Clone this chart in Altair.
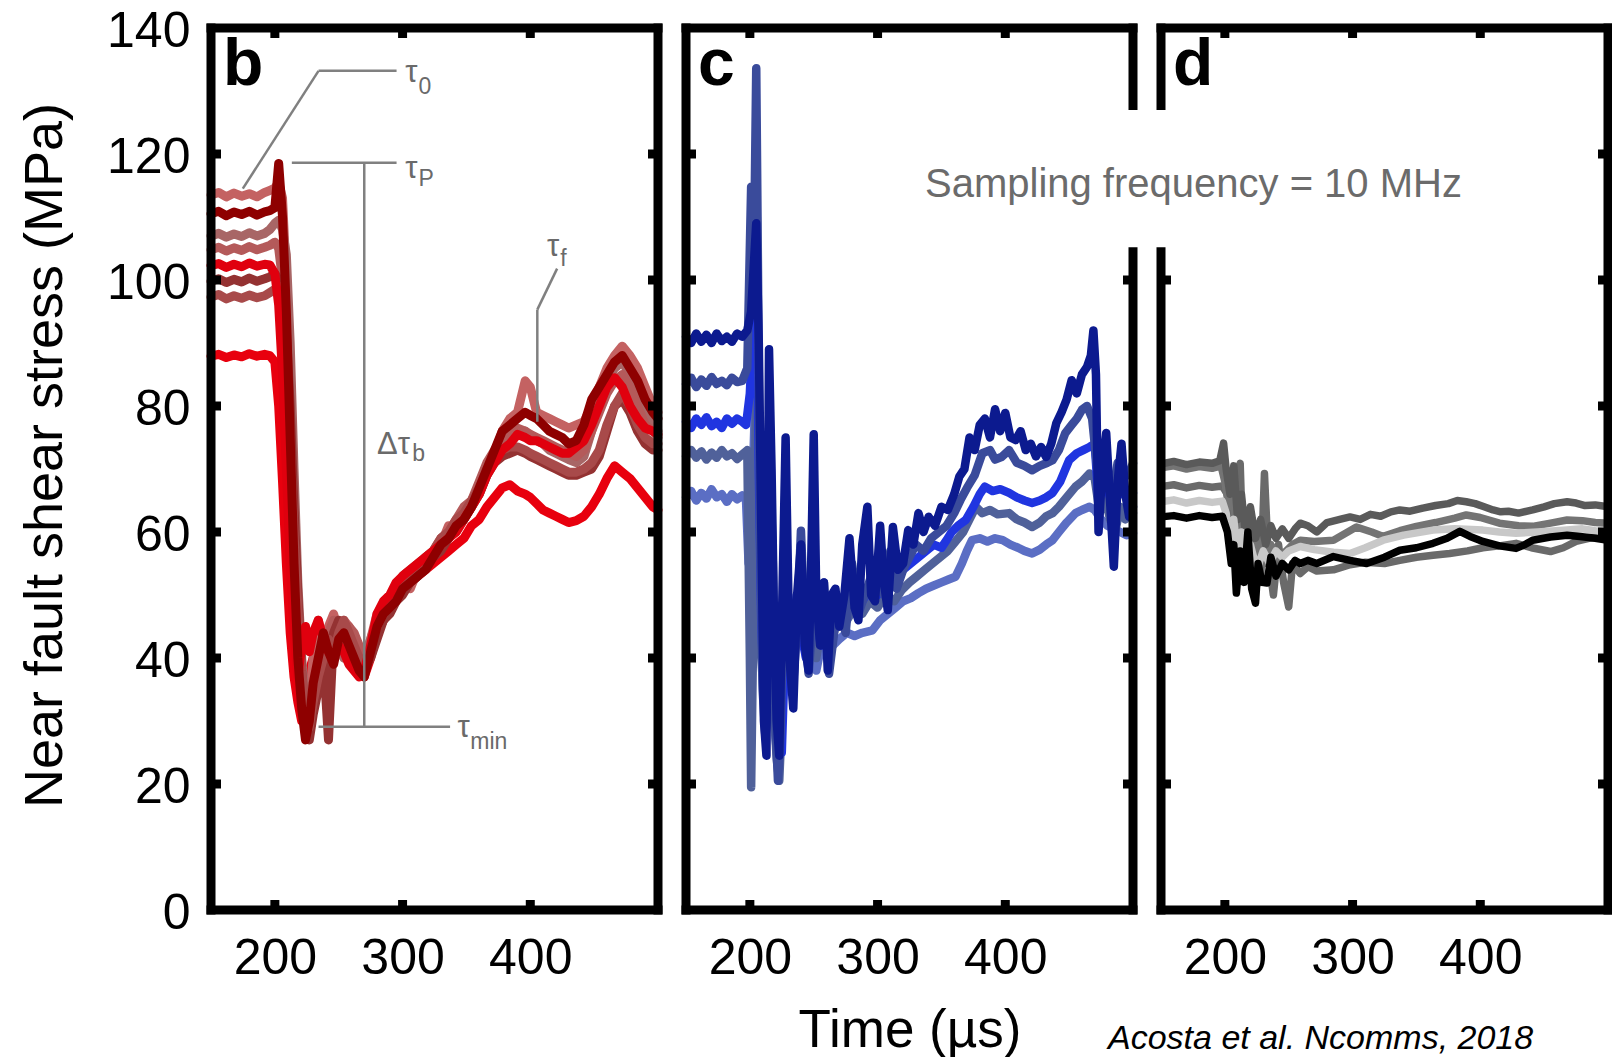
import altair as alt
import pandas as pd

FONT = "Liberation Sans"
W, H = 447, 882
X_DOMAIN = [150, 500]
Y_DOMAIN = [0, 140]
X_TICK_VALUES = [200, 300, 400]
Y_LABEL_VALUES = [0, 20, 40, 60, 80, 100, 120, 140]
Y_TICKS_FULL = [20, 40, 60, 80, 100, 120]
Y_TICKS_GAP = [20, 40, 60, 80, 100]

PANEL_LETTERS = ["b", "c", "d"]
X_TITLE = "Time (µs)"
Y_TITLE = "Near fault shear stress (MPa)"
NOTE = "Sampling frequency = 10 MHz"
CITATION = "Acosta et al. Ncomms, 2018"

# ---------------- panel b (red) ----------------
B_T = [150, 156, 162, 168, 174, 180, 186, 192, 196, 200,
       203, 206, 209, 212, 215, 218, 221, 224, 227, 230,
       234, 238, 242, 246, 250, 254, 258, 262, 266, 270,
       275, 280, 285, 290, 295, 300, 306, 312, 318, 324,
       330, 336, 342, 348, 354, 360, 366, 372, 378, 384,
       390, 396, 400, 405, 410, 415, 420, 425, 430, 436,
       442, 448, 454, 460, 466, 472, 478, 484, 490, 496,
       500]
B1 = [113.5, 113.9, 113.2, 113.8, 113.3, 113.7, 113.2, 113.9, 114.2, 114.6,
      115.5, 113, 100, 82, 62, 45, 35, 30, 33, 40,
      46, 42, 45, 47, 44, 46, 45, 43, 41, 40,
      43, 47, 48, 49, 50, 52, 51, 54, 55, 57,
      58, 61, 60, 62, 64, 66, 69, 72, 76, 78,
      79, 84, 83, 79, 78.5, 78, 77.5, 77, 76.5, 77,
      77.5, 80, 83, 86, 88, 89.5, 88, 86, 83, 80,
      79]
B2 = [110.5, 110.9, 110.2, 110.8, 110.4, 110.9, 110.3, 110.8, 111, 111.5,
      118.5, 110, 95, 75, 55, 40, 32, 27, 30, 36,
      40, 44, 41, 39, 43, 44, 42, 40, 38, 37,
      41, 45, 47, 48, 49, 51, 52, 53, 54, 56,
      58, 59, 61, 62, 64, 67, 70, 73, 76, 77,
      78, 79, 78.5, 78, 77, 76, 75.5, 75, 74, 74.5,
      77, 81, 83, 85, 87, 88, 86, 84, 81, 79,
      78]
B3 = [107, 107.4, 106.8, 107.3, 106.9, 107.5, 107, 107.4, 108, 109,
      109.5, 108, 104, 90, 70, 52, 40, 33, 30, 34,
      38, 41, 43, 45, 42, 40, 43, 42, 40, 39,
      42, 44, 46, 48, 50, 51, 52, 53, 55, 56,
      58, 60, 61, 63, 65, 67, 70, 72, 74, 75,
      75.5, 76, 75, 74.5, 74, 73, 72.5, 72, 71.5, 71,
      72, 76, 80, 84, 86, 87, 85, 82, 79, 77,
      76]
B4 = [104.8, 105.2, 104.6, 105.1, 104.7, 105.3, 104.8, 105.2, 105.5, 106,
      105, 100, 88, 72, 58, 45, 36, 31, 28, 32,
      36, 40, 44, 46, 45, 43, 45, 44, 42, 40,
      43, 46, 48, 49, 51, 53, 54, 55, 56, 57,
      59, 60, 62, 64, 65, 68, 71, 73, 75, 76,
      76.5, 76, 75.5, 75, 74.5, 74, 73.5, 73, 72.5, 72,
      73, 76, 79, 82, 84, 85, 83, 80, 77, 76,
      75]
B5 = [102.3, 102.6, 102, 102.5, 102.1, 102.7, 102.2, 102.5, 102.4, 101,
      96, 85, 70, 55, 44, 37, 42, 45, 41, 44,
      46, 43, 41, 40, 42, 41, 39, 38, 37, 38,
      42, 47, 49, 50, 52, 53, 54, 55, 56, 57,
      58, 59, 60, 62, 64, 66, 69, 71, 73, 74,
      75.5, 75, 74.5, 74.5, 74, 73.5, 73, 72.5, 72.5, 73.5,
      74.5, 77, 80, 83, 84.5, 83, 80, 78, 76.5, 76,
      75.5]
B6 = [99.8, 100.2, 99.6, 100.1, 99.7, 100.3, 99.8, 100.2, 100.5, 101,
      100, 97, 92, 80, 64, 50, 38, 30, 27, 31,
      35, 40, 27, 44, 46, 44, 42, 41, 39, 38,
      40, 43, 46, 47, 49, 50, 52, 53, 55, 56,
      57, 59, 61, 62, 64, 66, 69, 71, 72, 72.5,
      73, 72.5, 72, 71.5, 71, 70.5, 70, 69.5, 69, 69,
      69.5, 70, 72, 76, 80, 81, 79, 76, 74, 73,
      73]
B7 = [97.3, 97.7, 97, 97.5, 97.1, 97.6, 97.2, 97.5, 98, 98.5,
      99, 96, 88, 74, 60, 48, 38, 32, 29, 33,
      37, 40, 43, 41, 44, 46, 44, 42, 40, 39,
      42, 45, 47, 49, 50, 52, 53, 54, 56, 57,
      59, 60, 62, 63, 65, 67, 70, 72, 73, 73.5,
      73.5, 73, 72.5, 72, 71.5, 71, 70.5, 70, 69.5, 69.5,
      70, 71, 73, 77, 80, 82, 80, 77, 75, 74,
      74]
B8 = [87.9, 88.2, 87.7, 88.1, 87.8, 88.3, 87.9, 88.2, 88, 87,
      80, 68, 55, 44, 37, 33, 30, 34, 38, 40,
      38, 36, 39, 42, 43, 41, 40, 39, 38, 37,
      40, 44, 46, 48, 49, 51, 52, 53, 54, 55,
      56, 57, 58, 59, 61, 62, 64, 65.5, 67, 67.5,
      66.5, 66, 65.5, 64.5, 63.5, 63, 62.5, 62, 61.5, 61.8,
      62.5, 64, 66, 68.5, 70.5, 69.5, 68.5, 67, 65.5, 64,
      63.5]
# drawing order (first = bottom)
B_SERIES = [B8, B1, B3, B4, B6, B7, B5, B2]
B_COLORS = ["#e8000e", "#c46262", "#a86666", "#b45a5a", "#943232", "#a84a4a", "#e0000e", "#8e0000"]

# ---------------- panel c (blue) ----------------
C1_T = [150, 154, 158, 162, 166, 170, 174, 178, 182, 186, 190, 194, 198, 201, 203, 205, 207, 209, 211, 213,
        215, 217, 219, 221, 223, 225, 228, 231, 234, 237, 240, 243, 246, 248, 250, 252, 255, 258, 261, 264,
        267, 270, 274, 278, 282, 285, 288, 292, 295, 298, 302, 305, 308, 312, 316, 320, 324, 328, 332, 336,
        340, 345, 350, 355, 360, 364, 368, 372, 376, 380, 384, 388, 392, 396, 400, 404, 408, 412, 416, 420,
        424, 428, 432, 436, 440, 444, 448, 452, 456, 460, 464, 467, 469, 471, 473, 476, 479, 482, 485, 488,
        491, 494, 497, 500]
C1_V = [91, 90, 91.5, 90.2, 91.3, 90, 91.5, 90.3, 91, 90.2, 91.5, 91, 92, 95, 102, 109, 90, 60, 30, 24.5,
        89, 70, 45, 30, 24.5, 45, 75, 40, 32, 50, 58, 42, 38, 55, 75.5, 50, 42, 52, 38, 50,
        51, 45, 50, 59, 48, 46, 58, 64, 50, 49, 61, 52, 47.6, 60.8, 54, 55, 60.3, 58, 63, 60,
        62.4, 61, 64, 63.5, 66, 68.8, 70, 75, 73, 77, 78, 75, 79.5, 76, 78.9, 75, 74.6, 76, 73, 74,
        72, 73.5, 71.9, 74, 77.3, 79, 81, 84.1, 82, 85, 86.2, 88, 92, 85, 60, 70, 75.7, 65, 54.5, 68,
        74, 66, 62.4, 64]
C2_T = [150, 154, 158, 162, 166, 170, 174, 178, 182, 186, 190, 194, 198, 201, 203, 205, 206, 208, 210, 212,
        214, 216, 218, 220, 222, 224, 226, 228, 231, 234, 237, 240, 243, 246, 250, 254, 258, 262, 266, 270,
        275, 280, 285, 290, 295, 300, 305, 310, 315, 320, 325, 330, 336, 342, 348, 354, 360, 365, 370, 376,
        382, 388, 392, 397, 403, 409, 415, 421, 427, 433, 437, 442, 447, 452, 456, 460, 464, 468, 472, 476,
        480, 484, 488, 492, 496, 500]
C2_V = [83.5, 84.5, 83, 84.2, 83.2, 84.6, 83.5, 84, 83.3, 84.5, 83.8, 84, 86, 114.8, 100, 133.6, 110, 60, 35, 28,
        40, 70, 55, 30, 20.5, 28, 45, 60, 42, 36, 45, 60.2, 45, 37.5, 48, 44, 52, 37.5, 44, 48,
        44, 55, 47, 50, 53, 52, 50, 57, 51, 54, 56, 58, 57, 59, 60, 61, 63, 65.1, 67, 69,
        72.5, 73, 71.5, 71.9, 73, 71, 70.5, 69.8, 70.5, 71, 71.4, 73, 75.7, 77, 78, 79.4, 80, 78, 70, 72,
        68, 66, 71, 70, 69, 70.9]
C3_T = [150, 154, 158, 162, 166, 170, 174, 178, 182, 186, 190, 194, 197, 200, 203, 205, 207, 209, 211, 214,
        217, 220, 223, 225, 227, 230, 233, 236, 240, 244, 248, 252, 256, 260, 265, 270, 276, 282, 288, 294,
        300, 306, 314, 320, 326, 332, 338, 344, 350, 354, 358, 363, 369, 375, 380, 384, 390, 396, 403, 409,
        415, 421, 427, 432, 437, 443, 450, 456, 461, 466, 470, 473, 476, 480, 484, 488, 492, 496, 500]
C3_V = [77.5, 76.5, 78, 77, 78.2, 76.8, 77.5, 76.5, 78, 77.2, 78, 77.5, 77, 82, 95, 105, 70, 45, 35, 50,
        40, 32, 27, 25, 38, 50, 40, 48, 44, 40, 50, 45, 42, 48, 45, 46, 48, 50, 49, 51,
        50, 52, 52.4, 54, 55, 56, 57, 58, 57.5, 58.7, 60, 61, 61.9, 64, 66, 67.2, 66.5, 66.8, 66.2, 65.5,
        65, 64.6, 65, 65.5, 66.2, 68, 71.4, 72.5, 73, 73.5, 74, 65, 70, 67, 64, 68, 66, 65.5, 66.2]
C4_T = [150, 154, 158, 162, 166, 170, 174, 178, 182, 186, 190, 194, 198, 200, 201, 203, 205, 207, 209, 212,
        215, 218, 221, 223, 225, 228, 232, 236, 240, 244, 248, 252, 256, 260, 265, 270, 276, 282, 288, 294,
        300, 306, 313, 319, 325, 331, 337, 343, 349, 355, 361, 367, 372, 377, 382, 388, 394, 403, 409, 415,
        421, 427, 432, 437, 442, 448, 455, 460, 466, 470, 474, 478, 482, 486, 490, 494, 498, 500]
C4_V = [72, 73, 71.8, 72.8, 71.5, 72.6, 71.8, 73, 72, 72.5, 71.6, 72.3, 73, 40, 19.5, 50, 85, 60, 40, 30,
        45, 35, 24, 20.5, 30, 42, 38, 46, 50, 42, 46, 40, 45, 44, 46, 45, 46, 48, 47, 49,
        48, 50, 49, 50.8, 52, 53, 54, 55, 56, 57, 58.5, 60, 62, 64, 63, 63.5, 62.8, 63, 62, 61.5,
        60.8, 61.5, 62.5, 63, 64, 65.5, 67.2, 68, 69.3, 68.5, 63, 66, 62, 60, 64, 62, 63, 63]
C5_T = [150, 154, 158, 162, 166, 170, 174, 178, 182, 186, 190, 194, 197, 199, 201, 204, 207, 210, 213, 216,
        219, 222, 225, 228, 232, 236, 240, 244, 248, 252, 256, 260, 265, 270, 276, 282, 288, 296, 302, 308,
        314, 320, 326, 332, 338, 344, 350, 356, 361, 366, 370, 374, 380, 386, 392, 398, 404, 410, 415, 421,
        427, 432, 437, 442, 448, 455, 460, 466, 470, 475, 480, 485, 490, 495, 500]
C5_V = [65.5, 66.5, 65, 66.2, 65.3, 66.8, 65.5, 66, 64.8, 66, 65.2, 65.8, 65, 55, 60, 80, 55, 40, 33, 42,
        30, 23, 32, 40, 36, 43, 47, 40, 44, 38, 42, 41, 42, 43, 44, 43.5, 44, 44.4, 46, 47,
        48, 49, 49.5, 50.3, 51, 51.5, 52, 52.5, 52.9, 55, 57, 58.7, 59, 58.5, 59, 58.7, 58, 57.5, 57, 56.6,
        57.2, 58, 58.7, 60, 61.5, 63, 63.5, 64, 63.5, 62, 61, 60.5, 60, 59.5, 59.8]
C_SERIES = [(C5_T, C5_V), (C4_T, C4_V), (C3_T, C3_V), (C2_T, C2_V), (C1_T, C1_V)]
C_COLORS = ["#5b6ec4", "#50619a", "#2035e0", "#3a4b9b", "#0c1a8f"]

# ---------------- panel d (gray) ----------------
D1_T = [150, 160, 170, 180, 190, 196, 199, 201, 204, 207, 210, 213, 216, 220, 224, 228, 232, 236, 240, 245,
        250, 255, 259, 265, 272, 280, 290, 298, 306, 314, 322, 330, 337, 345, 355, 365, 375, 382, 389, 396,
        403, 410, 416, 422, 430, 441, 450, 458, 468, 475, 482, 490, 500]
D1_V = [70.8, 71.2, 70.7, 71.1, 70.9, 71.3, 74.1, 70, 66, 70.5, 62, 66, 60, 64, 59, 62, 58, 61, 59, 60.5,
        59, 60.5, 61.4, 61, 60, 61.5, 62, 62.4, 62, 62.8, 62.5, 63.2, 63.5, 63.3, 63.8, 64.2, 64.5, 65, 64.8, 64.5,
        64, 63.5, 63.2, 63.3, 63, 63.5, 64, 64.5, 64.8, 64.6, 64.2, 64.3, 64]
D2_T = [150, 160, 170, 180, 190, 198, 202, 205, 208, 212, 214, 217, 220, 224, 228, 231, 234, 238, 242, 246,
        250, 253, 259, 265, 272, 285, 298, 310, 325, 337, 350, 363, 376, 390, 402, 415, 428, 440, 455, 465,
        475, 485, 492, 500]
D2_V = [67.2, 67.5, 67, 67.4, 67.1, 67.3, 66, 62, 68, 70.9, 58, 63, 55, 60, 52, 69.3, 56, 50, 58, 52,
        48.1, 55, 53.4, 54.5, 53.8, 54, 54.8, 55.2, 55, 55.5, 56, 56.3, 56.6, 57, 57.5, 57.8, 58.2, 57.5, 56.9, 57.5,
        58.5, 59, 59.2, 59.5]
D3_T = [150, 160, 170, 180, 190, 198, 201, 204, 207, 210, 213, 216, 220, 225, 230, 235, 240, 245, 250, 259,
        270, 285, 298, 310, 324, 340, 363, 380, 402, 415, 428, 445, 468, 480, 490, 500]
D3_V = [64.8, 65.1, 64.6, 65, 64.7, 64.9, 63, 58, 62, 56, 60, 55, 58, 54, 57, 55, 57, 56, 57, 57.7,
        57.2, 56.8, 56.6, 57.5, 58.7, 59.5, 60.3, 60.5, 60.3, 60, 59.8, 60, 60.3, 60.5, 60.2, 60]
D4_T = [150, 160, 170, 180, 190, 198, 202, 205, 207, 209, 212, 215, 218, 221, 224, 226, 229, 233, 236, 240,
        245, 250, 255, 259, 265, 272, 285, 298, 311, 325, 337, 350, 363, 374, 384, 392, 402, 415, 428, 435,
        441, 455, 468, 478, 490, 500]
D4_V = [62.4, 62.6, 62.2, 62.6, 62.3, 62.5, 60, 55, 58, 50.3, 57, 52, 60, 51, 48.7, 55, 52, 51.9, 56, 53,
        55, 54, 55.5, 55, 55.5, 55, 56.1, 55.5, 55, 56, 57.1, 57.5, 58.2, 59, 60.1, 59.3, 58.5, 57.8, 57.4, 58,
        58.7, 59.2, 59.5, 59.3, 59, 58.7]
D5_T = [150, 160, 170, 180, 190, 197, 200, 203, 206, 209, 212, 215, 219, 223, 227, 231, 236, 242, 248, 253,
        259, 270, 285, 303, 315, 324, 337, 350, 365, 380, 389, 400, 415, 430, 441, 455, 468, 480, 490, 500]
D5_V = [70.2, 70.5, 70, 70.4, 70.1, 70.5, 68, 64, 67, 60, 64, 58, 62, 56, 60, 55, 58, 56, 57, 58,
        58.7, 58.5, 58.7, 60.8, 60, 59.3, 60.2, 60.9, 61.5, 62.2, 62.7, 62.3, 61.4, 61, 60.9, 61.4, 61.9, 61.8, 61.5, 61.4]
D_SERIES = [(D2_T, D2_V), (D5_T, D5_V), (D1_T, D1_V), (D3_T, D3_V), (D4_T, D4_V)]
D_COLORS = ["#6a6a6a", "#747474", "#5a5a5a", "#c8c8c8", "#000000"]

# ---------------- annotations (panel b) ----------------
ANN_X1 = [174.9, 234.2, 213.3, 270.0, 234.2, 421.0, 405.5]
ANN_Y1 = [114.5, 133.2, 118.6, 118.6, 29.1, 101.8, 95.3]
ANN_X2 = [234.2, 295.3, 295.3, 270.0, 337.2, 405.5, 405.5]
ANN_Y2 = [133.2, 133.2, 118.6, 29.1, 29.1, 95.3, 77.5]
ANN_TEXT = ["τ", "τ", "Δτ", "τ", "τ"]
ANN_TX = [302, 302, 280, 413, 343]
ANN_TY = [132.8, 117.6, 73.8, 105.3, 28.9]
SUB_TEXT = ["0", "P", "b", "f", "min"]
SUB_TX = [312.5, 312.5, 307.5, 423.5, 353]
SUB_TY = [130.6, 116.0, 72.4, 103.4, 26.6]

# frame segments (x1, y1, x2, y2) in data units
FRAME_BOTTOM_TOP = [(150, 0, 500, 0), (150, 140, 500, 140)]
FRAME_LEFT_FULL = [(150, 0, 150, 140)]
FRAME_RIGHT_FULL = [(500, 0, 500, 140)]
FRAME_LEFT_BROKEN = [(150, 0, 150, 104.5), (150, 127.7, 150, 140)]
FRAME_RIGHT_BROKEN = [(500, 0, 500, 104.5), (500, 127.7, 500, 140)]

XSCALE = alt.Scale(domain=X_DOMAIN, nice=False, zero=False)
YSCALE = alt.Scale(domain=Y_DOMAIN, nice=False, zero=False)


def x_axis(title):
    kw = dict(values=X_TICK_VALUES, labelFontSize=50, labelFont=FONT, labelColor="black",
              labelPadding=23, ticks=False, tickSize=0, domain=False, grid=False, labelFlush=False)
    if title:
        return alt.Axis(title=title, titleFontSize=53, titleFont=FONT, titleFontWeight="normal",
                        titleColor="black", titleX=W / 2, titleY=94, titleBaseline="top",
                        titleAlign="center", **kw)
    return alt.Axis(title=None, **kw)


Y_AXIS = alt.Axis(values=Y_LABEL_VALUES, title=Y_TITLE, labelFontSize=50, labelFont=FONT,
                  labelColor="black", labelPadding=21, labelOffset=3, ticks=False, tickSize=0,
                  domain=False, grid=False, titleFontSize=54, titleFont=FONT,
                  titleFontWeight="normal", titleColor="black", titleX=-139, titleY=427,
                  titleAngle=270, titleBaseline="bottom", titleAlign="center")


def panel(letter, series, colors, sw, xaxis, yaxis, left_frame, right_frame,
          left_ticks, right_ticks, extra_layers):
    def X(f):
        return alt.X(f"{f}:Q", scale=XSCALE, axis=xaxis)

    def Y(f):
        return alt.Y(f"{f}:Q", scale=YSCALE, axis=yaxis)

    layers = []
    for (ts, vs), col in zip(series, colors):
        df = pd.DataFrame({"t": ts, "v": vs, "i": list(range(len(ts)))})
        layers.append(
            alt.Chart(df).mark_line(color=col, strokeWidth=sw, strokeJoin="round", strokeCap="round")
            .encode(x=X("t"), y=Y("v"), order="i:Q")
        )
    for ex in extra_layers:
        layers.append(ex(X, Y))

    segs = FRAME_BOTTOM_TOP + left_frame + right_frame
    fdf = pd.DataFrame(segs, columns=["x1", "y1", "x2", "y2"])
    layers.append(
        alt.Chart(fdf).mark_rule(color="black", strokeWidth=9, strokeCap="square")
        .encode(x=X("x1"), y=Y("y1"), x2=alt.X2("x2"), y2=alt.Y2("y2"))
    )
    xt = pd.DataFrame({"v": X_TICK_VALUES})
    layers.append(alt.Chart(xt).mark_rule(color="black", strokeWidth=9)
                  .encode(x=X("v"), y=alt.value(H), y2=alt.value(H - 10)))
    layers.append(alt.Chart(xt).mark_rule(color="black", strokeWidth=9)
                  .encode(x=X("v"), y=alt.value(0), y2=alt.value(10)))
    layers.append(alt.Chart(pd.DataFrame({"v": left_ticks})).mark_rule(color="black", strokeWidth=9)
                  .encode(y=Y("v"), x=alt.value(0), x2=alt.value(10)))
    layers.append(alt.Chart(pd.DataFrame({"v": right_ticks})).mark_rule(color="black", strokeWidth=9)
                  .encode(y=Y("v"), x=alt.value(W), x2=alt.value(W - 10)))
    layers.append(
        alt.Chart(pd.DataFrame({"s": [letter]})).mark_text(
            font=FONT, fontSize=66, fontWeight="bold", color="black", align="left", baseline="alphabetic")
        .encode(text="s:N", x=alt.value(12), y=alt.value(57))
    )
    return alt.layer(*layers).properties(width=W, height=H)


def annotations_b(X, Y):
    ldf = pd.DataFrame({"x1": ANN_X1, "y1": ANN_Y1, "x2": ANN_X2, "y2": ANN_Y2})
    lines = alt.Chart(ldf).mark_rule(color="#808080", strokeWidth=2.5).encode(
        x=X("x1"), y=Y("y1"), x2=alt.X2("x2"), y2=alt.Y2("y2"))
    tdf = pd.DataFrame({"x": ANN_TX, "y": ANN_TY, "s": ANN_TEXT})
    main = alt.Chart(tdf).mark_text(font=FONT, fontSize=31, color="#6a6a6a", align="left",
                                    baseline="middle").encode(x=X("x"), y=Y("y"), text="s:N")
    sdf = pd.DataFrame({"x": SUB_TX, "y": SUB_TY, "s": SUB_TEXT})
    sub = alt.Chart(sdf).mark_text(font=FONT, fontSize=23, color="#6a6a6a", align="left",
                                   baseline="middle").encode(x=X("x"), y=Y("y"), text="s:N")
    return alt.layer(lines, main, sub)


def note_c(X, Y):
    return alt.Chart(pd.DataFrame({"s": [NOTE]})).mark_text(
        font=FONT, fontSize=40, color="#6b6b6b", align="left", baseline="alphabetic"
    ).encode(text="s:N", x=alt.value(239), y=alt.value(169))


def citation_d(X, Y):
    return alt.Chart(pd.DataFrame({"s": [CITATION]})).mark_text(
        font=FONT, fontSize=34, fontStyle="italic", color="black", align="left", baseline="alphabetic"
    ).encode(text="s:N", x=alt.value(-53), y=alt.value(1021))


b_series = list(zip([B_T] * len(B_SERIES), B_SERIES))
panel_b = panel(PANEL_LETTERS[0], b_series, B_COLORS, 9, x_axis(None), Y_AXIS,
                FRAME_LEFT_FULL, FRAME_RIGHT_FULL, Y_TICKS_FULL, Y_TICKS_FULL, [annotations_b])
panel_c = panel(PANEL_LETTERS[1], C_SERIES, C_COLORS, 8.5, x_axis(X_TITLE), None,
                FRAME_LEFT_FULL, FRAME_RIGHT_BROKEN, Y_TICKS_FULL, Y_TICKS_GAP, [note_c])
panel_d = panel(PANEL_LETTERS[2], D_SERIES, D_COLORS, 7.5, x_axis(None), None,
                FRAME_LEFT_BROKEN, FRAME_RIGHT_FULL, Y_TICKS_GAP, Y_TICKS_FULL, [citation_d])

chart = alt.hconcat(panel_b, panel_c, panel_d, spacing=28, bounds="flush").properties(
    autosize=alt.AutoSizeParams(type="none"),
    padding={"left": 211, "top": 28, "right": 1612 - 211, "bottom": 1057 - 28},
    background="white",
).configure_view(strokeWidth=0)

chart.save("out.html", embed_options={"renderer": "svg", "actions": False})
